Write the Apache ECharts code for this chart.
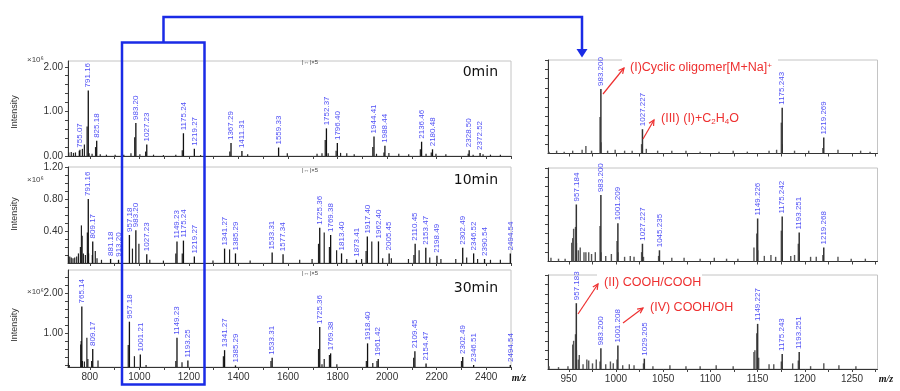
<!DOCTYPE html>
<html><head><meta charset="utf-8">
<script src="https://cdn.jsdelivr.net/npm/echarts@6/dist/echarts.min.js"></script>
<style>html,body{margin:0;padding:0;background:#fff;}#c{width:900px;height:391px;}</style>
</head><body><div id="c"></div>
<script>
// ---------- DATA ----------
const panelTitles = ['0min', '10min', '30min'];
const leftXLabels = [800, 1000, 1200, 1400, 1600, 1800, 2000, 2200, 2400];
const leftXTicks = [800, 900, 1000, 1100, 1200, 1300, 1400, 1500, 1600, 1700, 1800, 1900, 2000, 2100, 2200, 2300, 2400, 2500];
const rightXLabels = [950, 1000, 1050, 1100, 1150, 1200, 1250];
const rightXTicks = [950, 975, 1000, 1025, 1050, 1075, 1100, 1125, 1150, 1175, 1200, 1225, 1250, 1275];
const y0Labels = [0, 1, 2];
const y0Ticks = [0, 0.2, 0.4, 0.6, 0.8, 1.0, 1.2, 1.4, 1.6, 1.8, 2.0];
const y1Labels = [0.4, 0.8, 1.2];
const y1Ticks = [0.1, 0.2, 0.3, 0.4, 0.5, 0.6, 0.7, 0.8, 0.9, 1.0, 1.1, 1.2];
const y2Labels = [1, 2];
const y2Ticks = [0.2, 0.4, 0.6, 0.8, 1.0, 1.2, 1.4, 1.6, 1.8, 2.0, 2.2, 2.4];
const yRTicks = [0.1, 0.2, 0.3, 0.4, 0.5, 0.6, 0.7, 0.8, 0.9, 1.0];

// left, 0 min (intensity x10^6)
const left0Labeled = [[755.07,0.12],[791.16,1.47],[825.18,0.34],[983.20,0.74],[1027.23,0.26],[1175.24,0.51],[1219.27,0.16],[1367.29,0.29],[1411.31,0.11],[1559.33,0.19],[1752.37,0.62],[1796.40,0.29],[1944.41,0.44],[1988.44,0.23],[2136.46,0.32],[2180.48,0.15],[2328.50,0.13],[2372.52,0.07]];
const left0Other = [[718,0.08],[728,0.09],[737,0.07],[745,0.08],[763,0.14],[773,0.16],[781,0.26],[792,0.66],[800,0.06],[812,0.05],[826,0.2],[845,0.04],[870,0.03],[905,0.03],[940,0.03],[969,0.06],[984,0.42],[1005,0.04],[1028,0.1],[1060,0.03],[1100,0.02],[1150,0.03],[1176,0.13],[1250,0.02],[1368,0.1],[1440,0.04],[1600,0.06],[1720,0.05],[1740,0.06],[1753,0.36],[1765,0.06],[1797,0.12],[1815,0.07],[1840,0.06],[1870,0.04],[1945,0.2],[1960,0.05],[1990,0.08],[2010,0.07],[2050,0.05],[2090,0.04],[2137,0.15],[2160,0.05],[2181,0.08],[2200,0.05],[2240,0.04],[2330,0.05],[2350,0.03],[2390,0.04],[2420,0.03],[2460,0.03]];
// left, 10 min
const left1Labeled = [[791.16,0.80],[809.17,0.27],[881.18,0.05],[913.20,0.04],[957.18,0.35],[983.20,0.41],[1027.23,0.11],[1149.23,0.27],[1175.24,0.28],[1219.27,0.08],[1341.27,0.18],[1385.29,0.12],[1533.31,0.13],[1577.34,0.11],[1725.36,0.44],[1769.38,0.35],[1813.40,0.12],[1873.41,0.04],[1917.40,0.33],[1962.40,0.27],[2005.45,0.12],[2110.45,0.24],[2153.47,0.19],[2198.49,0.09],[2302.49,0.19],[2346.52,0.12],[2390.54,0.05],[2494.54,0.12]];
const left1Other = [[716,0.1],[722,0.08],[728,0.07],[735,0.06],[742,0.07],[750,0.08],[757,0.12],[765,0.2],[769,0.47],[772,0.34],[777,0.12],[785,0.1],[793,0.38],[798,0.12],[813,0.1],[825,0.15],[832,0.06],[850,0.04],[975,0.18],[1001,0.24],[1045,0.04],[1100,0.03],[1150,0.12],[1176,0.12],[1300,0.03],[1367,0.17],[1450,0.03],[1650,0.04],[1700,0.05],[1726,0.24],[1749,0.38],[1770,0.2],[1799,0.16],[1840,0.05],[1900,0.05],[1918,0.15],[1941,0.27],[1985,0.06],[2020,0.06],[2089,0.05],[2111,0.1],[2132,0.16],[2175,0.07],[2220,0.05],[2280,0.05],[2324,0.07],[2368,0.05],[2420,0.04],[2460,0.04]];
// left, 30 min
const left2Labeled = [[765.14,1.66],[809.17,0.6],[957.18,1.28],[1001.21,0.46],[1149.23,0.88],[1193.25,0.31],[1341.27,0.57],[1385.29,0.19],[1533.31,0.38],[1725.36,1.15],[1769.38,0.49],[1918.40,0.74],[1961.42,0.35],[2109.45,0.54],[2154.47,0.24],[2302.49,0.40],[2346.51,0.2],[2494.54,0.2]];
const left2Other = [[716,0.25],[720,0.2],[766,0.71],[768,0.8],[773,0.3],[781,0.29],[791,0.88],[795,0.35],[810,0.3],[836,0.31],[958,0.7],[983,0.42],[1030,0.2],[1150,0.3],[1175,0.27],[1342,0.42],[1534,0.3],[1726,0.6],[1740,0.22],[1749,0.35],[1770,0.45],[1800,0.22],[1919,0.3],[1945,0.25],[1962,0.3],[2110,0.38],[2303,0.3]];
// right, zoomed (relative intensity)
const right0Labeled = [[983.200,0.69],[1027.227,0.26],[1175.243,0.49],[1219.269,0.17]];
const right0Other = [[930,0.02],[938,0.03],[946,0.02],[955,0.03],[965,0.04],[969,0.08],[975,0.03],[984,0.39],[985,0.12],[992,0.03],[1000,0.04],[1010,0.03],[1018,0.03],[1028,0.1],[1033,0.05],[1045,0.03],[1060,0.03],[1075,0.03],[1090,0.02],[1110,0.02],[1125,0.03],[1140,0.02],[1163,0.03],[1171,0.04],[1176,0.33],[1177,0.1],[1190,0.03],[1205,0.03],[1220,0.06],[1236,0.04],[1260,0.03],[1270,0.02]];
const right1Labeled = [[957.184,0.61],[983.200,0.71],[1001.209,0.41],[1027.227,0.19],[1045.235,0.12],[1149.226,0.46],[1175.242,0.48],[1193.251,0.31],[1219.268,0.15]];
const right1Other = [[932,0.04],[940,0.03],[947,0.03],[954,0.2],[955,0.25],[956,0.35],[958,0.37],[959,0.2],[961,0.12],[963,0.15],[967,0.1],[969,0.1],[972,0.1],[975,0.08],[979,0.1],[984,0.38],[985,0.1],[990,0.06],[996,0.08],[1002,0.22],[1003,0.1],[1010,0.05],[1016,0.06],[1020,0.05],[1028,0.1],[1030,0.05],[1046,0.06],[1060,0.04],[1073,0.04],[1090,0.03],[1105,0.04],[1118,0.03],[1130,0.03],[1147,0.15],[1150,0.3],[1151,0.12],[1158,0.06],[1165,0.07],[1170,0.05],[1176,0.33],[1177,0.12],[1186,0.06],[1190,0.07],[1194,0.19],[1195,0.1],[1207,0.05],[1213,0.05],[1220,0.07],[1236,0.05],[1250,0.03],[1265,0.03]];
const right2Labeled = [[957.183,0.70],[983.200,0.22],[1001.208,0.25],[1029.205,0.11],[1149.227,0.48],[1175.243,0.16],[1193.251,0.18]];
const right2Other = [[930,0.03],[940,0.02],[950,0.03],[955,0.26],[956,0.3],[958,0.37],[959,0.2],[961,0.1],[962,0.15],[966,0.05],[970,0.1],[972,0.09],[976,0.06],[980,0.1],[984,0.08],[990,0.05],[995,0.08],[998,0.06],[1002,0.1],[1008,0.04],[1015,0.05],[1020,0.04],[1030,0.06],[1040,0.03],[1058,0.04],[1075,0.03],[1090,0.03],[1107,0.04],[1125,0.03],[1147,0.18],[1148,0.2],[1150,0.38],[1152,0.12],[1163,0.05],[1168,0.05],[1176,0.08],[1188,0.06],[1194,0.09],[1207,0.03],[1221,0.06],[1237,0.04],[1255,0.03]];

const annotI = '(I)Cyclic oligomer[M+Na]{sup|+}';
const annotIII = '(III) (I)+C{sub|2}H{sub|4}O';
const annotII = '(II) COOH/COOH';
const annotIV = '(IV) COOH/OH';

// ---------- CHART ----------
const chart = echarts.init(document.getElementById('c'), null, {renderer: 'canvas'});
const BLUE = '#1a2be6', RED = '#ee3030', LBL = '#5050f5';
const FONT = '"Liberation Sans", Arial, sans-serif';
const AFONT = '12.5px "Liberation Sans", Arial, sans-serif';
const RICH = {
  sup: {font: '8px "Liberation Sans", Arial, sans-serif', fill: RED, verticalAlign: 'top', padding: [0, 0, 5, 0]},
  sub: {font: '8px "Liberation Sans", Arial, sans-serif', fill: RED, verticalAlign: 'bottom', padding: [4, 0, 0, 0]}
};

const grids = [
  {left: 68, right: 389, top: 61, bottom: 235},
  {left: 68, right: 389, top: 167, bottom: 128},
  {left: 68, right: 389, top: 270, bottom: 24},
  {left: 548, right: 22.5, top: 60, bottom: 237.5},
  {left: 548, right: 22.5, top: 168, bottom: 129.5},
  {left: 548, right: 22.5, top: 275, bottom: 22}
].map(g => Object.assign({show: true, borderColor: '#c4c4c4', borderWidth: 1, backgroundColor: 'transparent'}, g));

const xAxes = [], yAxes = [], series = [];
const yCfg = [
  {min: 0, max: 2.13, labels: y0Labels, ticks: y0Ticks},
  {min: 0, max: 1.2, labels: y1Labels, ticks: y1Ticks},
  {min: 0.15, max: 2.57, labels: y2Labels, ticks: y2Ticks}
];
for (let i = 0; i < 6; i++) {
  const left = i < 3;
  xAxes.push({
    type: 'value', gridIndex: i,
    min: left ? 712 : 928, max: left ? 2500 : 1277,
    axisLine: {show: true, onZero: false, lineStyle: {color: '#333', width: 1}},
    axisTick: {show: true, length: 3, customValues: left ? leftXTicks : rightXTicks, lineStyle: {color: '#444'}},
    axisLabel: {show: i === 2 || i === 5, customValues: left ? leftXLabels : rightXLabels, fontSize: 10, color: '#333', margin: 5, fontFamily: FONT,
      formatter: v => String(v)},
    splitLine: {show: false}
  });
  const yc = left ? yCfg[i] : {min: 0, max: 1, labels: [], ticks: yRTicks};
  yAxes.push({
    type: 'value', gridIndex: i, min: yc.min, max: yc.max,
    axisLine: {show: true, onZero: false, lineStyle: {color: '#333', width: 1}},
    axisTick: {show: true, length: 3, customValues: yc.ticks, lineStyle: {color: '#444'}},
    axisLabel: {show: left, customValues: yc.labels, fontSize: 10, color: '#333', margin: 5, fontFamily: FONT,
      formatter: v => v.toFixed(2)},
    splitLine: {show: false}
  });
}
const sets = [
  [left0Labeled, left0Other, 2], [left1Labeled, left1Other, 2], [left2Labeled, left2Other, 2],
  [right0Labeled, right0Other, 3], [right1Labeled, right1Other, 3], [right2Labeled, right2Other, 3]
];
sets.forEach(([lab, oth, dec], i) => {
  series.push({
    type: 'bar', xAxisIndex: i, yAxisIndex: i, data: oth, barWidth: i < 3 ? 1.2 : 1.4,
    itemStyle: {color: i < 3 ? '#222' : '#555'}, silent: true, animation: false, z: 2
  });
  series.push({
    type: 'bar', xAxisIndex: i, yAxisIndex: i, data: lab, barWidth: i < 3 ? 1.3 : 1.5,
    itemStyle: {color: i < 3 ? '#111' : '#333'}, silent: true, animation: false, z: 3,
    label: {show: true, position: 'top', rotate: 90, align: 'left', verticalAlign: 'middle', distance: 3,
      fontSize: 8, color: LBL, fontFamily: FONT,
      formatter: p => p.value[0].toFixed(dec)}
  });
});

// graphics
const g = [];
function txt(x, y, text, opt) {
  g.push({type: 'text', x: x, y: y, z: 100, style: Object.assign({text: text, fill: '#222', font: '10px ' + FONT, textAlign: 'left', textVerticalAlign: 'middle'}, opt || {})});
}
function redArrow(x1, y1, x2, y2) {
  const a = Math.atan2(y2 - y1, x2 - x1), L = 6, s = 0.45;
  g.push({type: 'line', z: 100, shape: {x1: x1, y1: y1, x2: x2, y2: y2}, style: {stroke: RED, lineWidth: 1.2}});
  g.push({type: 'polyline', z: 100, shape: {points: [
    [x2 - L * Math.cos(a - s), y2 - L * Math.sin(a - s)], [x2, y2], [x2 - L * Math.cos(a + s), y2 - L * Math.sin(a + s)]]},
    style: {stroke: RED, lineWidth: 1.2, fill: null}});
}
// panel titles
[[498, 72], [498, 180], [498, 288]].forEach((p, i) => txt(p[0], p[1], panelTitles[i], {font: '14px "DejaVu Sans", sans-serif', textAlign: 'right', fill: '#111'}));
// x10^6 and Intensity
[[60, 112], [180, 214], [292, 325]].forEach(p => {
  txt(27, p[0], '\u00D710\u2076', {font: '8px ' + FONT, fill: '#444'});
  g.push({type: 'text', x: 15, y: p[1], rotation: Math.PI / 2, z: 100,
    style: {text: 'Intensity', fill: '#333', font: '9px ' + FONT, textAlign: 'center', textVerticalAlign: 'middle'}});
});
// small scale markers
[62, 170, 273].forEach(y => txt(310, y, '|\u2194|\u00D75', {font: '6px ' + FONT, fill: '#444', textAlign: 'center'}));
// m/z
txt(519, 378, 'm/z', {font: 'italic bold 10px "Liberation Serif", serif', textAlign: 'center', fill: '#111'});
txt(886, 379, 'm/z', {font: 'italic bold 10px "Liberation Serif", serif', textAlign: 'center', fill: '#111'});
// white patches on right-panel top border + red annotations
g.push({type: 'rect', z: 99, shape: {x: 622, y: 55, width: 156, height: 10}, style: {fill: '#fff'}});
g.push({type: 'rect', z: 99, shape: {x: 597, y: 270, width: 105, height: 10}, style: {fill: '#fff'}});
txt(630, 68, annotI, {font: AFONT, fill: RED, rich: RICH});
txt(661, 119, annotIII, {font: AFONT, fill: RED, rich: RICH});
txt(604, 283, annotII, {font: AFONT, fill: RED});
txt(650, 308, annotIV, {font: AFONT, fill: RED});
redArrow(603, 94, 624, 68);
redArrow(643, 139, 654, 120);
redArrow(578, 314, 598, 284);
redArrow(623, 323, 643, 308);
// blue box + connector
g.push({type: 'rect', z: 101, shape: {x: 122, y: 42.5, width: 82.5, height: 342}, style: {stroke: BLUE, lineWidth: 2.5, fill: null}});
g.push({type: 'polyline', z: 101, shape: {points: [[163.5, 42], [163.5, 17], [582, 17], [582, 51]]}, style: {stroke: BLUE, lineWidth: 2.5, fill: null}});
g.push({type: 'polygon', z: 101, shape: {points: [[576.5, 49], [587.5, 49], [582, 57.5]]}, style: {fill: BLUE}});

chart.setOption({
  animation: false,
  grid: grids, xAxis: xAxes, yAxis: yAxes, series: series, graphic: g
});
</script></body></html>
